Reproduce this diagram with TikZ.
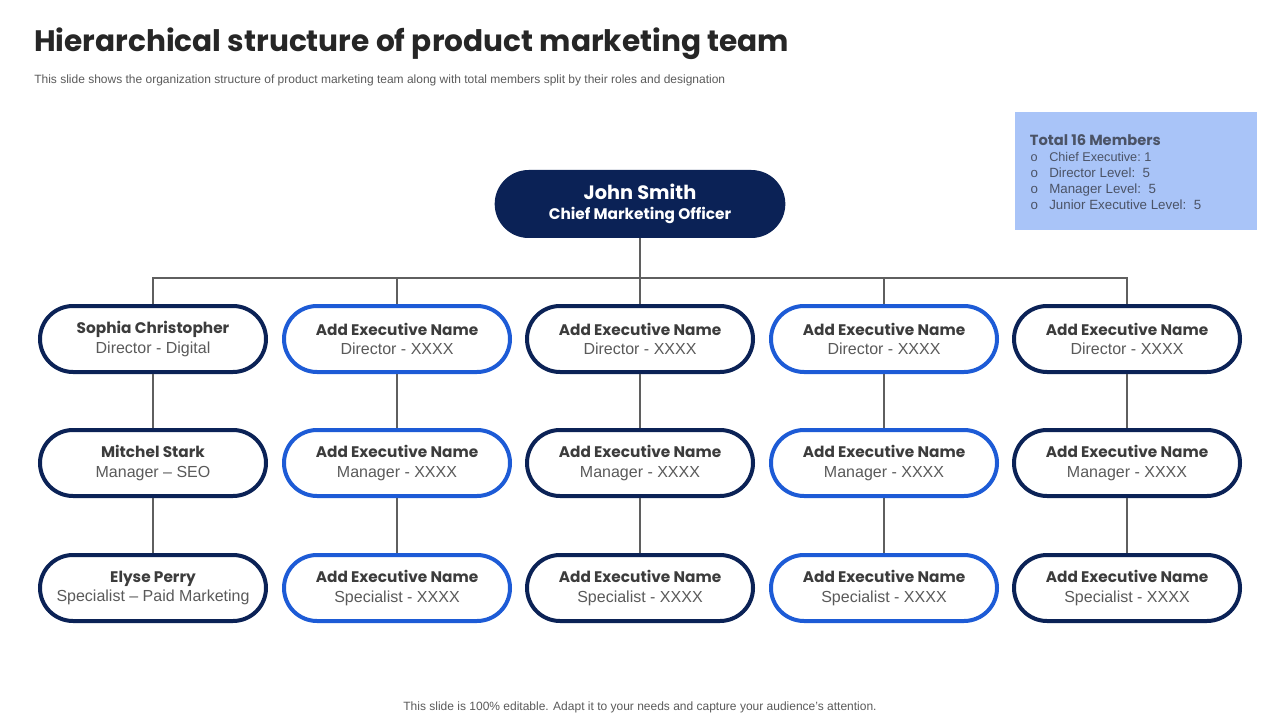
\documentclass[tikz,border=0pt]{standalone}
\usepackage{fontspec}
\setmainfont{Liberation Sans}
\newfontfamily\headfont{Poppins}
\usepackage{xcolor}
\usepackage{tikz}
\usetikzlibrary{positioning}
\definecolor{navy}{HTML}{0B2256}
\definecolor{royal}{HTML}{1D5BD6}
\definecolor{ink}{HTML}{262626}
\definecolor{name}{HTML}{3C3C3C}
\definecolor{role}{HTML}{5A5A5A}
\definecolor{wire}{HTML}{5F5F5F}
\definecolor{panel}{HTML}{A9C4F8}
\definecolor{panelink}{HTML}{4B5366}
\newcommand{\person}[2]{{\headfont\bfseries\fontsize{11.5}{14}\selectfont\color{name}#1}\\[2.5pt]{\fontsize{12}{14}\selectfont\color{role}#2}}
\tikzset{
  pill/.style={draw, line width=3pt, fill=white, rounded corners=24.75pt,
    minimum width=169.5pt, minimum height=49.5pt, align=center, inner sep=2pt},
  navybox/.style={pill, draw=navy},
  bluebox/.style={pill, draw=royal},
  rootbox/.style={fill=navy, rounded corners=25.5pt, minimum width=218pt,
    minimum height=51pt, align=center, text=white},
  wirestyle/.style={draw=wire, line width=0.8pt},
  lab/.style={font=\fontsize{9}{11}\selectfont, text=role, inner sep=0pt},
}
\begin{document}
\begin{tikzpicture}[x=0.75pt, y=-0.75pt]
  \useasboundingbox (0,0) rectangle (1280,720);
  % heading
  \node[anchor=west, inner sep=0pt, text=ink, font=\headfont\bfseries\fontsize{22.2}{26}\selectfont] (title) at (34,44) {Hierarchical structure of product marketing team};
  \node[lab, anchor=west] (sub) at (34,80) {This slide shows the organization structure of product marketing team along with total members split by their roles and designation};
  % members panel
  \node[fill=panel, anchor=north west, minimum width=181pt, minimum height=88.5pt, inner sep=0pt] (info) at (1015,112) {};
  \node[anchor=north west, align=left, inner sep=0pt, text=panelink, below right=16.5pt and 11pt of info.north west] (infotext)
    {{\headfont\bfseries\fontsize{11}{13}\selectfont Total 16 Members}\\[0pt]
     \fontsize{9.5}{12}\selectfont
     \makebox[14.5pt][l]{\hspace{0.5pt}o}Chief Executive:\ 1\\
     \makebox[14.5pt][l]{\hspace{0.5pt}o}Director Level:\ \ 5\\
     \makebox[14.5pt][l]{\hspace{0.5pt}o}Manager Level:\ \ 5\\
     \makebox[14.5pt][l]{\hspace{0.5pt}o}Junior Executive Level:\ \ 5};
  % root
  \node[rootbox] (root) at (640,204)
    {{\headfont\bfseries\fontsize{14.5}{17}\selectfont John Smith}\\[3.5pt]{\headfont\bfseries\fontsize{11.5}{14}\selectfont Chief Marketing Officer}};
  \coordinate (bus) at (640,278);
  % directors
  \node[navybox] (d1) at (153,339) {\person{Sophia Christopher}{Director - Digital}};
  \node[bluebox] (d2) at (397,339) {\person{Add Executive Name}{Director - XXXX}};
  \node[navybox] (d3) at (640,339) {\person{Add Executive Name}{Director - XXXX}};
  \node[bluebox] (d4) at (884,339) {\person{Add Executive Name}{Director - XXXX}};
  \node[navybox] (d5) at (1127,339) {\person{Add Executive Name}{Director - XXXX}};
  % managers
  \node[navybox] (m1) at (153,463) {\person{Mitchel Stark}{Manager -- SEO}};
  \node[bluebox] (m2) at (397,463) {\person{Add Executive Name}{Manager - XXXX}};
  \node[navybox] (m3) at (640,463) {\person{Add Executive Name}{Manager - XXXX}};
  \node[bluebox] (m4) at (884,463) {\person{Add Executive Name}{Manager - XXXX}};
  \node[navybox] (m5) at (1127,463) {\person{Add Executive Name}{Manager - XXXX}};
  % specialists
  \node[navybox] (s1) at (153,588) {\person{Elyse Perry}{Specialist -- Paid Marketing}};
  \node[bluebox] (s2) at (397,588) {\person{Add Executive Name}{Specialist - XXXX}};
  \node[navybox] (s3) at (640,588) {\person{Add Executive Name}{Specialist - XXXX}};
  \node[bluebox] (s4) at (884,588) {\person{Add Executive Name}{Specialist - XXXX}};
  \node[navybox] (s5) at (1127,588) {\person{Add Executive Name}{Specialist - XXXX}};
  % connectors
  \draw[wirestyle] (root.south) -- (bus);
  \foreach \i in {1,...,5} {
    \draw[wirestyle] (bus) -| (d\i.north);
    \draw[wirestyle] (d\i.south) -- (m\i.north);
    \draw[wirestyle] (m\i.south) -- (s\i.north);
  }
  \node[lab] (foot) at (640,707) {This slide is 100\% editable. Adapt it to your needs and capture your audience's attention.};
\end{tikzpicture}
\end{document}
